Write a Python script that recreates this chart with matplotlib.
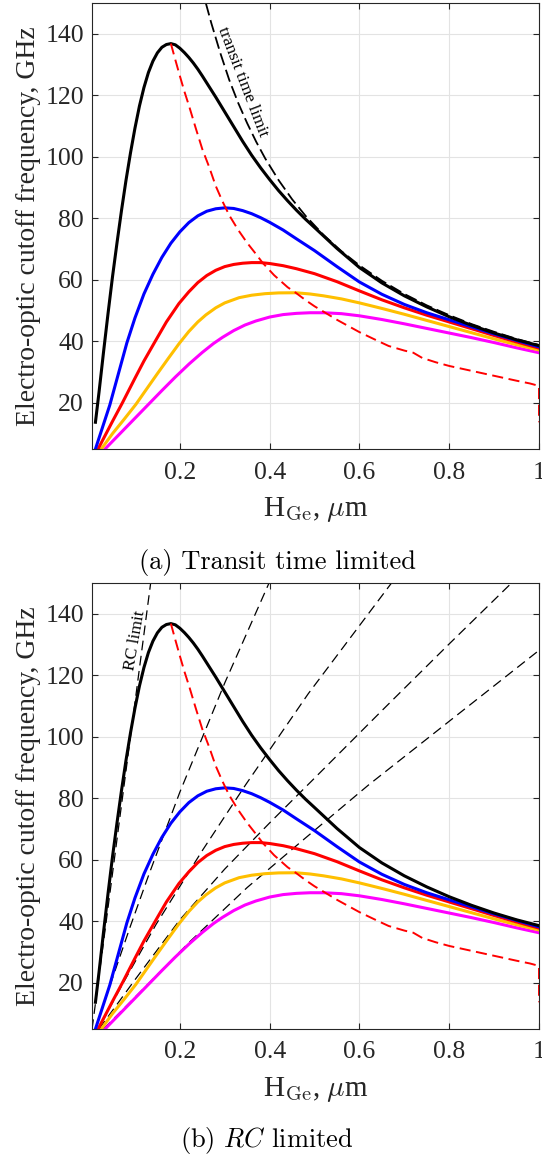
import numpy as np
import matplotlib
matplotlib.use("Agg")
import matplotlib.pyplot as plt

plt.rcParams['font.family'] = ['Liberation Serif', 'DejaVu Serif']
plt.rcParams['mathtext.fontset'] = 'cm'
plt.rcParams['lines.scale_dashes'] = False

# cutoff frequency curves (GHz) vs Ge height (um)
black_x = [0.012, 0.02, 0.03, 0.04, 0.05, 0.06, 0.07, 0.08, 0.09, 0.1, 0.11, 0.12, 0.13, 0.14, 0.15, 0.16, 0.17, 0.18,
           0.19, 0.2, 0.21, 0.22, 0.23, 0.24, 0.25, 0.26, 0.27, 0.28, 0.29, 0.3, 0.32, 0.34, 0.36, 0.38, 0.4, 0.42, 0.44,
           0.46, 0.48, 0.5, 0.55, 0.6, 0.65, 0.7, 0.75, 0.8, 0.85, 0.9, 0.95, 1.0]
black_y = [13.7, 23.5, 36.5, 49.0, 61.0, 72.0, 82.5, 92.3, 101.2, 109.3, 116.5, 122.5, 127.4, 131.1, 133.8, 135.6, 136.5, 136.8,
           136.4, 135.3, 133.9, 132.3, 130.5, 128.5, 126.3, 124.0, 121.7, 119.4, 117.0, 114.6, 109.8, 105.0, 100.5, 96.4, 92.6, 89.0, 85.7,
           82.6, 79.7, 77.0, 70.2, 64.0, 59.0, 54.8, 51.2, 48.0, 45.2, 42.7, 40.5, 38.6]

blue_x = [0.012, 0.044, 0.082, 0.1, 0.12, 0.14, 0.16, 0.18, 0.2, 0.22, 0.24, 0.26, 0.28, 0.3, 0.32, 0.34, 0.36,
          0.38, 0.4, 0.43, 0.46, 0.5, 0.55, 0.6, 0.65, 0.7, 0.75, 0.8, 0.85, 0.9, 0.95, 1.0]
blue_y = [5.0, 19.3, 39.5, 47.6, 55.4, 61.8, 67.3, 71.9, 75.6, 78.6, 80.8, 82.3, 83.1, 83.4, 83.2, 82.5, 81.5,
          80.2, 78.7, 76.2, 73.3, 69.5, 64.3, 59.3, 55.3, 52.0, 49.3, 47.0, 44.7, 42.4, 40.3, 38.2]

red_x = [0.01, 0.03, 0.05, 0.072, 0.1, 0.12, 0.147, 0.17, 0.198, 0.22, 0.24, 0.26, 0.28, 0.3, 0.32, 0.34, 0.36, 0.38,
         0.4, 0.43, 0.46, 0.5, 0.55, 0.6, 0.65, 0.7, 0.75, 0.8, 0.85, 0.9, 0.95, 1.0]
red_y = [2.8, 8.4, 14.0, 20.0, 28.0, 33.6, 40.5, 46.3, 52.3, 56.1, 59.1, 61.4, 63.1, 64.3, 65.0, 65.4, 65.6, 65.6,
         65.3, 64.6, 63.6, 62.0, 59.4, 56.4, 53.5, 50.9, 48.5, 46.3, 44.1, 41.9, 39.8, 37.8]

yellow_x = [0.01, 0.03, 0.05, 0.075, 0.102, 0.125, 0.15, 0.175, 0.198, 0.22, 0.24, 0.258, 0.28, 0.3, 0.332, 0.36, 0.39,
            0.42, 0.458, 0.49, 0.52, 0.56, 0.6, 0.65, 0.7, 0.75, 0.8, 0.85, 0.9, 0.95, 1.0]
yellow_y = [2.0, 6.0, 10.0, 14.5, 19.5, 24.3, 29.5, 34.6, 39.2, 43.2, 46.3, 48.6, 50.9, 52.5, 54.2, 55.0, 55.5,
            55.75, 55.8, 55.4, 54.8, 53.8, 52.5, 50.7, 48.8, 46.8, 44.8, 42.8, 40.8, 38.9, 37.2]

magenta_x = [0.01, 0.04, 0.07, 0.1, 0.132, 0.16, 0.19, 0.221, 0.25, 0.275, 0.295, 0.32, 0.345, 0.369, 0.4, 0.43, 0.46,
             0.49, 0.52, 0.56, 0.6, 0.65, 0.7, 0.75, 0.8, 0.85, 0.9, 0.95, 1.0]
magenta_y = [1.5, 6.0, 10.5, 15.0, 19.8, 24.0, 28.4, 32.7, 36.4, 39.3, 41.3, 43.5, 45.3, 46.6, 47.9, 48.7, 49.1,
             49.3, 49.3, 49.0, 48.3, 47.1, 45.7, 44.2, 42.7, 41.2, 39.6, 37.9, 36.3]

# locus of maxima
peak_x = [0.18, 0.19, 0.2, 0.21, 0.221, 0.235, 0.25, 0.265, 0.28, 0.295, 0.31, 0.33, 0.35, 0.37, 0.384, 0.41, 0.44, 0.46,
          0.48, 0.5, 0.524, 0.55, 0.6, 0.64, 0.665, 0.7, 0.72, 0.74, 0.77, 0.8, 0.85, 0.9, 0.95, 0.98, 1.0, 1.0]
peak_y = [136.8, 131.5, 126.3, 121.3, 116.3, 109.5, 102.5, 96.8, 90.5, 85.5, 81.0, 76.2, 72.0, 68.3, 65.6, 61.5, 57.6, 55.6,
          53.4, 51.4, 49.3, 47.0, 43.0, 40.2, 38.5, 37.0, 36.3, 34.6, 33.2, 32.0, 30.4, 28.8, 27.2, 26.3, 25.5, 13.7]

# transit time limit
tt_x = [0.258, 0.27, 0.29, 0.31, 0.33, 0.35, 0.37, 0.39, 0.42, 0.45, 0.48, 0.52, 0.56, 0.6, 0.65, 0.7, 0.75, 0.8, 0.85,
        0.9, 0.95, 1.0]
tt_y = [149.9, 143.5, 133.8, 125.0, 117.5, 110.9, 104.9, 99.5, 92.4, 86.2, 80.8, 74.6, 69.3, 64.7, 59.7, 55.4, 51.7, 48.5, 45.6,
        43.1, 40.8, 38.8]

# RC limits
rc_lines = [
    ([0.0045, 0.135], [5.0, 150.0]),
    ([0.012, 0.044, 0.09, 0.132, 0.2, 0.3, 0.399], [5.0, 19.0, 38.5, 55.6, 82.0, 117.5, 150.1]),
    ([0.01, 0.072, 0.147, 0.25, 0.347, 0.486, 0.672], [2.8, 19.5, 39.0, 63.0, 84.5, 114.0, 150.1]),
    ([0.02, 0.1, 0.2, 0.3, 0.4, 0.501, 0.65, 0.8, 0.936], [5.0, 21.0, 40.5, 57.0, 72.0, 86.7, 108.5, 130.2, 149.6]),
    ([0.03, 0.132, 0.221, 0.35, 0.479, 0.62, 1.0], [5.0, 20.0, 33.2, 51.0, 67.0, 84.3, 128.1]),
]

curves = [(black_x, black_y, 'k'), (blue_x, blue_y, '#0000ff'), (red_x, red_y, '#ff0000'),
          (yellow_x, yellow_y, '#ffbf00'), (magenta_x, magenta_y, '#ff00ff')]

fig = plt.figure(figsize=(5.42, 11.6), dpi=100)
W, H = 542.0, 1160.0
ax1 = fig.add_axes([92.3 / W, 1 - 449 / H, (539 - 92.3) / W, 446 / H])
ax2 = fig.add_axes([92.3 / W, 1 - 1029 / H, (539 - 92.3) / W, 446 / H])

for ax in (ax1, ax2):
    ax.set_xlim(0.005, 1.0)
    ax.set_ylim(5, 150)
    ax.set_xticks([0.2, 0.4, 0.6, 0.8, 1.0])
    ax.set_xticklabels(['0.2', '0.4', '0.6', '0.8', '1'])
    ax.set_yticks([20, 40, 60, 80, 100, 120, 140])
    ax.tick_params(direction='in', top=True, right=True, length=4, width=0.8,
                   colors='#262626', labelsize=18.5, labelcolor='#262626')
    ax.tick_params(axis='x', pad=9)
    ax.tick_params(axis='y', pad=6)
    ax.grid(True, color='#e3e3e3', linewidth=0.8)
    ax.set_axisbelow(True)
    for s in ax.spines.values():
        s.set_color('#262626')
        s.set_linewidth(0.8)
    ax.set_xlabel(r'H$_{\rm Ge}$, $\mu$m', fontsize=21, color='#262626', labelpad=8)
    ax.set_ylabel('Electro-optic cutoff frequency, GHz', fontsize=20, color='#262626', labelpad=3)

# panel a
ax1.plot(tt_x, tt_y, color='k', lw=1.3, dashes=(9, 3.5))
for x, y, c in curves[::-1]:
    ax1.plot(x, y, color=c, lw=2.2)
ax1.plot(peak_x, peak_y, color='#ff0000', lw=1.4, dashes=(8, 4))
ax1.text(0.340, 124.5, 'transit time limit', rotation=-69, fontsize=12.5,
         ha='center', va='center', rotation_mode='anchor')

# panel b
for x, y in rc_lines:
    ax2.plot(x, y, color='k', lw=0.9, dashes=(7, 4))
for x, y, c in curves[::-1]:
    ax2.plot(x, y, color=c, lw=2.2)
ax2.plot(peak_x, peak_y, color='#ff0000', lw=1.4, dashes=(8, 4))
ax2.text(0.100, 131.2, 'RC limit', rotation=80, fontsize=12.5,
         ha='center', va='center', rotation_mode='anchor')

fig.text(0.512, 1 - 562 / H, '(a) Transit time limited', family='cmr10',
         fontsize=19, ha='center', va='center')
fig.text(0.493, 1 - 1140 / H, r'(b) $RC$ limited', family='cmr10',
         fontsize=19, ha='center', va='center')

fig.savefig('out.png', dpi=100)
